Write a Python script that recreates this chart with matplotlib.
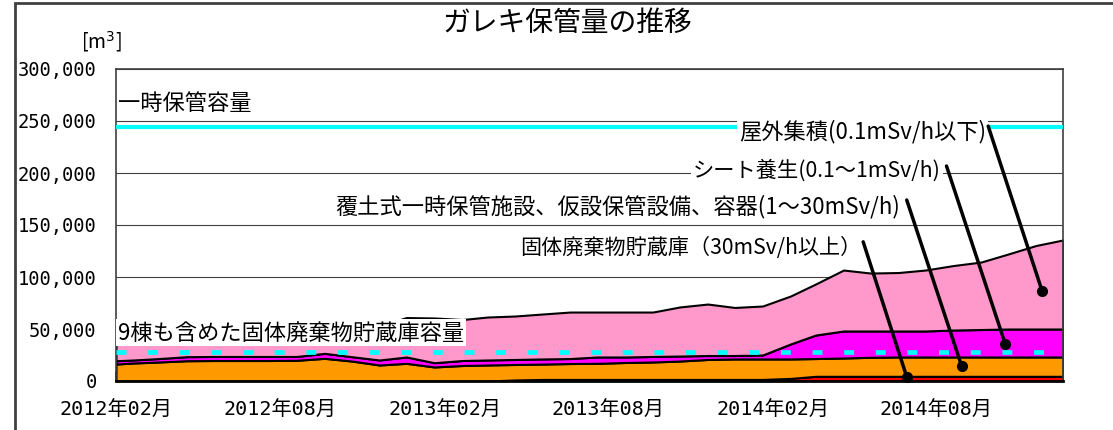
import pandas as pd
import matplotlib
matplotlib.use("Agg")
import matplotlib.pyplot as plt
import matplotlib.dates as mdates
from matplotlib.ticker import FuncFormatter, MultipleLocator
from matplotlib.patches import Rectangle

plt.rcParams['font.family'] = ['Noto Sans CJK JP', 'DejaVu Sans']
TICK_FONT = ['DejaVu Sans Mono', 'Noto Sans CJK JP']

# monthly readings (m3)
dates = pd.to_datetime([
    "2012-02-01", "2012-02-20", "2012-03-20", "2012-04-20", "2012-05-20", "2012-06-20",
    "2012-07-20", "2012-08-20", "2012-09-20", "2012-10-20", "2012-11-20", "2012-12-20",
    "2013-01-20", "2013-02-20", "2013-03-20", "2013-04-20", "2013-05-20", "2013-06-20",
    "2013-07-20", "2013-08-20", "2013-09-20", "2013-10-20", "2013-11-20", "2013-12-20",
    "2014-01-20", "2014-02-20", "2014-03-20", "2014-04-20", "2014-05-20", "2014-06-20",
    "2014-07-20", "2014-08-20", "2014-09-20", "2014-10-20", "2014-11-20", "2014-12-20",
])
red = [0, 0, 0, 0, 0, 0, 0, 0, 0, 0, 0, 0, 0, 0, 0,
       1000, 1500, 1500, 1500, 1500, 1500, 1500, 1500, 1500, 1500, 2500,
       4500, 4500, 4500, 4500, 4500, 4500, 4500, 4500, 4500, 4500]
orange = [16300, 17300, 18300, 19500, 19700, 19700, 19700, 19900, 21800, 19200,
          15400, 17000, 13500, 14900, 15400, 14900, 14800, 15300, 15500, 16300,
          16800, 17700, 19200, 19700, 19700, 18700, 17100, 17600, 18300, 18600,
          18600, 18600, 18600, 18600, 18600, 18600]
magenta = [3200, 2900, 3300, 3900, 3900, 3900, 3900, 3700, 4800, 4200,
           4800, 6100, 4100, 4800, 4800, 4800, 4900, 4800, 6100, 5300,
           5300, 4800, 3800, 3300, 3800, 14400, 22600, 26000, 25300, 25000,
           25000, 25900, 26400, 26900, 26900, 26900]
pink = [22500, 22800, 22400, 21600, 23400, 24400, 25400, 26400, 24400, 27600,
        32800, 37900, 43000, 39400, 41300, 41800, 43200, 44700, 43200, 43200,
        42700, 47200, 49500, 46200, 47100, 46100, 49100, 58600, 55700, 56200,
        58600, 62000, 64900, 72100, 80300, 85600]

outdoor_capacity = 244000
store_capacity = 28000

series_labels = ["固体廃棄物貯蔵庫（30mSv/h以上）",
                 "覆土式一時保管施設、仮設保管設備、容器(1～30mSv/h)",
                 "シート養生(0.1～1mSv/h)",
                 "屋外集積(0.1mSv/h以下)"]
colors = ["#FF0000", "#FF9900", "#FF00FF", "#FF99CC"]

fig = plt.figure(figsize=(11.13, 4.30), dpi=100)
ax = fig.add_axes([116 / 1113, 49 / 430, 947 / 1113, 312 / 430])

ax.stackplot(dates, red, orange, magenta, pink, colors=colors,
             edgecolor="black", linewidth=1.5, zorder=2)

# capacity lines
ax.axhline(outdoor_capacity, color="#00FFFF", lw=3, zorder=3)
ax.axhline(store_capacity, color="#00FFFF", lw=3.4, dashes=(2.1, 4.6), zorder=3)

ax.set_xlim(dates[0], dates[-1])
ax.set_ylim(0, 300000)
ax.yaxis.set_major_locator(MultipleLocator(50000))
ax.yaxis.set_major_formatter(FuncFormatter(lambda v, p: f"{v:,.0f}"))
ax.xaxis.set_major_locator(mdates.MonthLocator(bymonth=[2, 8]))
ax.xaxis.set_major_formatter(mdates.DateFormatter("%Y年%m月"))

ax.tick_params(axis="x", direction="in", length=7, width=2, pad=14)
ax.tick_params(axis="y", length=0, pad=14)
for t in ax.get_xticklabels():
    t.set_family(TICK_FONT)
    t.set_fontsize(14.5)
for t in ax.get_yticklabels():
    t.set_family(TICK_FONT)
    t.set_fontsize(13.5)
ax.yaxis.grid(True, color="#404040", lw=0.8)
ax.set_axisbelow(True)
for s in ax.spines.values():
    s.set_color("#404040")
    s.set_linewidth(1.2)
ax.spines["bottom"].set_color("black")
ax.spines["bottom"].set_linewidth(2)

box = dict(fc="white", ec="none", pad=1.5)
ax.text(0.002, 0.891, "一時保管容量", transform=ax.transAxes, fontsize=16,
        va="center", ha="left", zorder=5)
ax.text(0.002, 0.154, "9棟も含めた固体廃棄物貯蔵庫容量", transform=ax.transAxes,
        fontsize=16, va="center", ha="left", bbox=box, zorder=5)

# label right edges meet the leader lines
label_pos = [(0.7867, 0.426), (0.8279, 0.558), (0.8712, 0.676), (0.9187, 0.801)]
label_size = [15.2, 16, 15.3, 16]
leaders = [((0.789, 0.446), (0.835, 0.013)),
           ((0.835, 0.580), (0.893, 0.048)),
           ((0.877, 0.689), (0.939, 0.119)),
           ((0.921, 0.817), (0.978, 0.288))]
for lab, (tx, ty), fs, (p0, p1) in zip(series_labels, label_pos, label_size, leaders):
    ax.text(tx, ty, lab, transform=ax.transAxes, fontsize=fs,
            va="center", ha="right", bbox=box, zorder=5)
    ax.annotate("", xy=p1, xytext=p0, xycoords="axes fraction",
                arrowprops=dict(arrowstyle="-", lw=2.5, color="black",
                                shrinkA=0, shrinkB=0), zorder=6)
    ax.plot(p1[0], p1[1], "o", transform=ax.transAxes, ms=7,
            color="black", clip_on=False, zorder=6)

fig.text(567 / 1113, 1 - 23 / 430, "ガレキ保管量の推移", ha="center", va="center",
         fontsize=20)
fig.text(101 / 1113, 1 - 42 / 430, "[m$^3$]", ha="center", va="center", fontsize=14)

fig.add_artist(Rectangle((15 / 1113, -0.5), 2, 0.5 + 1 - 3 / 430,
                         transform=fig.transFigure, fill=False,
                         ec="#404040", lw=2))

fig.savefig("out.png", dpi=100)
